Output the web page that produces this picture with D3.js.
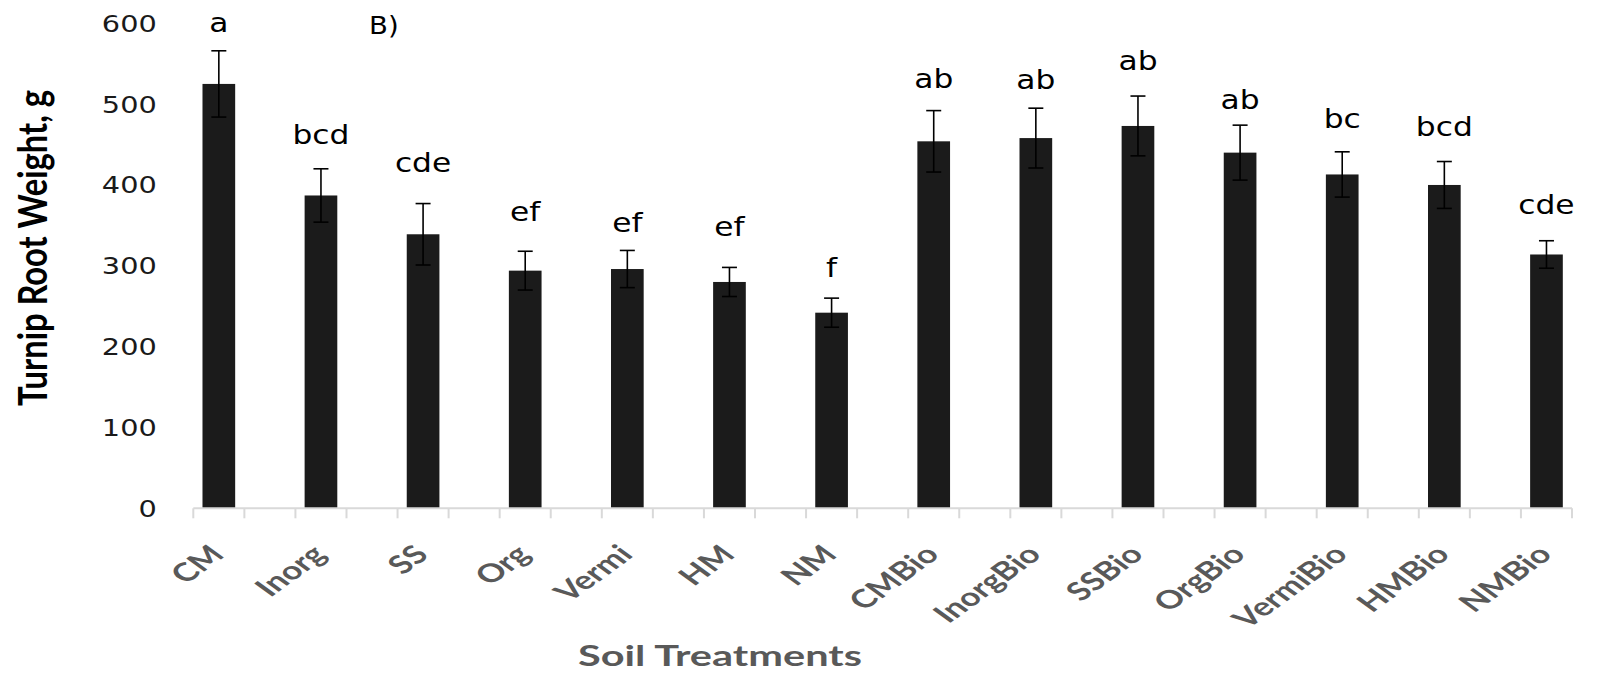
<!DOCTYPE html>
<html>
<head>
<meta charset="utf-8">
<script src="https://cdn.jsdelivr.net/npm/d3@7"></script>
<style>
  html, body { margin: 0; padding: 0; background: #fff; }
  svg { display: block; }
</style>
</head>
<body>
<svg id="chart" width="1601" height="673"></svg>
<script>
// Turnip root weight by soil treatment (mean ± error, letters = significance groups)
const categories = ["CM", "Inorg", "SS", "Org", "Vermi", "HM", "NM",
                    "CMBio", "InorgBio", "SSBio", "OrgBio", "VermiBio", "HMBio", "NMBio"];
const weights = [525, 387, 339, 294, 296, 280, 242, 454, 458, 473, 440, 413, 400, 314];
const errors  = [41, 33, 38, 24, 23, 18, 18, 38, 37, 37, 34, 28, 29, 17];
const groups  = ["a", "bcd", "cde", "ef", "ef", "ef", "f", "ab", "ab", "ab", "ab", "bc", "bcd", "cde"];
const yTicks  = [0, 100, 200, 300, 400, 500, 600];

// space (px) between each error-bar cap and its significance letters
const letterGap = [19, 25, 32, 30, 18, 31, 21, 23, 19, 26, 16, 24, 26, 27];

const svg = d3.select("#chart");

const x = d3.scaleBand()
  .domain(categories)
  .range([193.3, 1572])
  .paddingInner(0.68)
  .paddingOuter(0.09);

const y = d3.scaleLinear().domain([0, 600]).range([508.3, 23.3]);

const step = x.step();
const cx = d => x(d) + x.bandwidth() / 2;

// bars
svg.append("g")
  .selectAll("rect")
  .data(categories)
  .join("rect")
  .attr("x", d => x(d))
  .attr("width", x.bandwidth())
  .attr("y", (d, i) => y(weights[i]))
  .attr("height", (d, i) => y(0) - y(weights[i]))
  .attr("fill", "#1b1b1b");

// error bars
const eb = svg.append("g").attr("stroke", "#000").attr("stroke-width", 1.6);
categories.forEach((c, i) => {
  const hi = y(weights[i] + errors[i]), lo = y(weights[i] - errors[i]);
  eb.append("line").attr("x1", cx(c)).attr("x2", cx(c)).attr("y1", hi).attr("y2", lo);
  eb.append("line").attr("x1", cx(c) - 7.5).attr("x2", cx(c) + 7.5).attr("y1", hi).attr("y2", hi);
  eb.append("line").attr("x1", cx(c) - 7.5).attr("x2", cx(c) + 7.5).attr("y1", lo).attr("y2", lo);
});

// significance letters
svg.append("g")
  .selectAll("text")
  .data(categories)
  .join("text")
  .attr("transform", (d, i) => `translate(${cx(d)},${y(weights[i] + errors[i]) - letterGap[i]}) scale(1.16,1)`)
  .attr("text-anchor", "middle")
  .attr("font-family", "DejaVu Sans")
  .attr("font-size", 27)
  .attr("fill", "#000")
  .text((d, i) => groups[i]);

// category axis: baseline with ticks at quarter steps either side of each bar
const tickXs = [];
categories.forEach(c => { tickXs.push(cx(c) - step / 4, cx(c) + step / 4); });
const xa = svg.append("g").attr("stroke", "#d9d9d9").attr("stroke-width", 2);
xa.append("line").attr("x1", tickXs[0]).attr("x2", tickXs[tickXs.length - 1])
  .attr("y1", y(0)).attr("y2", y(0));
xa.selectAll("line.tick").data(tickXs).join("line").attr("class", "tick")
  .attr("x1", d => d).attr("x2", d => d).attr("y1", y(0)).attr("y2", y(0) + 10);

// category labels, rotated
svg.append("g")
  .selectAll("text")
  .data(categories)
  .join("text")
  .attr("transform", d => `translate(${cx(d) + 7},556) scale(1.38,1) rotate(-45)`)
  .attr("text-anchor", "end")
  .attr("font-family", "Lato")
  .attr("font-weight", "bold")
  .attr("font-size", 25.5)
  .attr("fill", "#595959")
  .text(d => d);

// value axis labels
svg.append("g")
  .selectAll("text")
  .data(yTicks)
  .join("text")
  .attr("transform", d => `translate(156.7,${y(d) + 8.4}) scale(1.25,1)`)
  .attr("text-anchor", "end")
  .attr("font-family", "DejaVu Sans")
  .attr("font-size", 23)
  .attr("fill", "#1a1a1a")
  .text(d => d);

// axis titles
svg.append("text")
  .attr("transform", "translate(720,666)")
  .attr("text-anchor", "middle")
  .attr("font-family", "Lato")
  .attr("font-weight", "bold")
  .attr("font-size", 28)
  .attr("fill", "#595959")
  .attr("textLength", 284)
  .attr("lengthAdjust", "spacingAndGlyphs")
  .text("Soil Treatments");

svg.append("text")
  .attr("transform", "translate(46.7,248) scale(1.38,1) rotate(-90)")
  .attr("text-anchor", "middle")
  .attr("font-family", "Lato")
  .attr("font-weight", "bold")
  .attr("font-size", 29)
  .attr("fill", "#000")
  .attr("textLength", 316)
  .attr("lengthAdjust", "spacingAndGlyphs")
  .text("Turnip Root Weight, g");

// panel tag
svg.append("text")
  .attr("transform", "translate(369,33.5) scale(1.08,1)")
  .attr("font-family", "DejaVu Sans")
  .attr("font-size", 25.5)
  .attr("fill", "#000")
  .text("B)");
</script>
</body>
</html>
